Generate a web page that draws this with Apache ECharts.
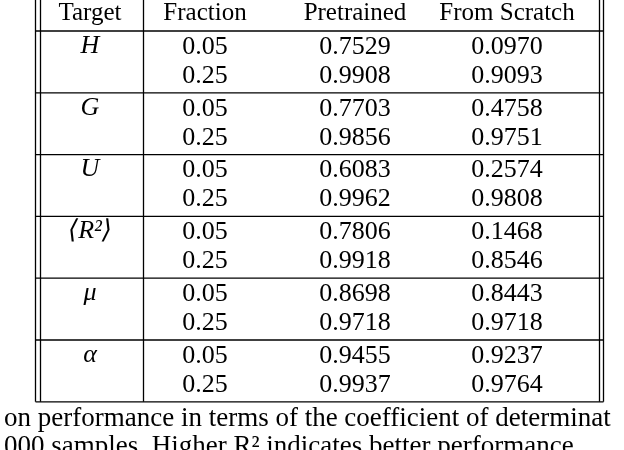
<!DOCTYPE html>
<html>
<head>
<meta charset="UTF-8" />
<style>
  html, body { margin: 0; padding: 0; background: #fff; }
  #chart { width: 624px; height: 450px; }
</style>
</head>
<body>
<div id="chart"></div>
<script src="https://cdn.jsdelivr.net/npm/echarts@6/dist/echarts.min.js"></script>
<script>
  // table content
  const headers = ['Target', 'Fraction', 'Pretrained', 'From Scratch'];
  const targets = ['H', 'G', 'U', '\u27E8R\u00B2\u27E9', '\u03BC', '\u03B1'];
  const fractions = ['0.05', '0.25'];
  const pretrained = [0.7529, 0.9908, 0.7703, 0.9856, 0.6083, 0.9962, 0.7806, 0.9918, 0.8698, 0.9718, 0.9455, 0.9937];
  const fromScratch = [0.0970, 0.9093, 0.4758, 0.9751, 0.2574, 0.9808, 0.1468, 0.8546, 0.8443, 0.9718, 0.9237, 0.9764];
  const caption = [
    'on performance in terms of the coefficient of determinat',
    '000 samples. Higher R\u00B2 indicates better performance.'
  ];

  const chart = echarts.init(document.getElementById('chart'));
  const font = '"Liberation Serif", "DejaVu Serif", serif';
  const colX = [90, 205, 355, 507];
  const headerBottom = 31, groupH = 61.8;
  const left1 = 35.5, left2 = 40.5, right1 = 599.5, right2 = 603.5, divX = 143.5;
  const bottom = headerBottom + groupH * targets.length;

  const els = [];
  function line(x1, y1, x2, y2) {
    els.push({ type: 'line', shape: { x1, y1, x2, y2 }, style: { stroke: '#000', lineWidth: 1.3 } });
  }
  function text(t, x, y, italic, size) {
    els.push({ type: 'text', x, y, style: {
      text: t, fill: '#000', font: (italic ? 'italic ' : '') + (size || 26) + 'px ' + font,
      align: 'center', verticalAlign: 'middle' } });
  }

  [left1, left2, right1, right2].forEach(x => line(x, 0, x, bottom));
  line(divX, 0, divX, bottom);
  for (let g = 0; g <= targets.length; g++) {
    const y = headerBottom + g * groupH;
    line(left1, y, right2, y);
  }
  headers.forEach((h, i) => text(h, colX[i], 13, false, 25));
  targets.forEach((t, g) => {
    const top = headerBottom + g * groupH;
    text(t, colX[0], top + 15, true);
    fractions.forEach((f, r) => {
      const y = top + 16 + r * 29;
      const k = g * 2 + r;
      text(f, colX[1], y);
      text(pretrained[k].toFixed(4), colX[2], y);
      text(fromScratch[k].toFixed(4), colX[3], y);
    });
  });
  caption.forEach((c, i) => {
    els.push({ type: 'text', x: 4, y: 419 + i * 28, style: {
      text: c, fill: '#000', font: '27px ' + font, align: 'left', verticalAlign: 'middle' } });
  });

  chart.setOption({ animation: false, graphic: { elements: els } });
</script>
</body>
</html>
